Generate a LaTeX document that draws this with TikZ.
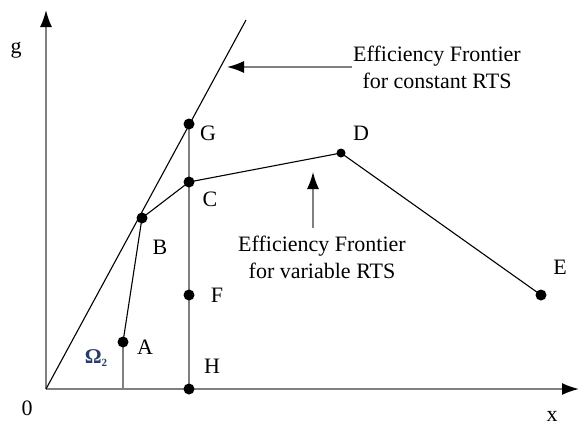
\documentclass[tikz,border=0pt]{standalone}
\usepackage{fontspec}
\setmainfont{Liberation Serif}
\usetikzlibrary{arrows.meta}
\definecolor{axisgray}{gray}{0.5}
\definecolor{omegacol}{RGB}{40,60,100}
\tikzset{
  dot/.style={circle,fill=black,inner sep=0pt,minimum size=11pt},
  smalldot/.style={circle,fill=black,inner sep=0pt,minimum size=9pt},
  axisline/.style={draw=axisgray,line width=1.8pt},
  thinline/.style={draw=black,line width=1.1pt},
  graytip/.style={-{Latex[length=17pt,width=12pt,black]}},
  lbl/.style={font=\fontsize{22}{26}\selectfont,inner sep=0pt},
  txt/.style={font=\fontsize{22}{27}\selectfont,align=center,inner sep=0pt}
}
\begin{document}
\begin{tikzpicture}[x=1pt,y=-1pt]
\useasboundingbox (0,0) rectangle (579,426);
% coordinates
\coordinate (O) at (46,389);
\coordinate (ytip) at (46,10);
\coordinate (xtip) at (579,389);
\coordinate (Ltop) at (246,20);
\coordinate (Abase) at (123,389);
\coordinate (pA) at (123,342);
\coordinate (pB) at (142,218);
\coordinate (pC) at (189,182);
\coordinate (pG) at (189,124);
\coordinate (pD) at (341,153);
\coordinate (pE) at (541,295);
\coordinate (pF) at (189,295);
\coordinate (pH) at (189,389);
% axes
\draw[axisline,graytip] (O) -- (ytip);
\draw[axisline,graytip] (O) -- (xtip);
% verticals
\draw[axisline] (pG) -- (pH);
\draw[axisline,line width=1.5pt] (pA) -- (Abase);
% frontiers
\draw[thinline] (O) -- (Ltop);
\draw[thinline] (pA) -- (pB) -- (pC) -- (pD) -- (pE);
% points
\node[dot] (A) at (pA) {};
\node[dot] (B) at (pB) {};
\node[dot] (C) at (pC) {};
\node[dot] (G) at (pG) {};
\node[smalldot] (D) at (pD) {};
\node[dot] (E) at (pE) {};
\node[dot] (F) at (pF) {};
\node[dot] (H) at (pH) {};
% annotation arrows
\node[txt] (tconst) at (437,67) {Efficiency Frontier\\for constant RTS};
\coordinate (cstart) at (352,67);
\coordinate (cend) at (227,67);
\draw[axisline,line width=1.5pt,graytip] (cstart) -- (cend);
\node[txt] (tvar) at (322,257) {Efficiency Frontier\\for variable RTS};
\coordinate (vstart) at (313,228);
\coordinate (vend) at (313,172);
\draw[axisline,line width=1.5pt,graytip] (vstart) -- (vend);
% labels
\node[lbl] (lg) at (16,50) {g};
\node[lbl] (l0) at (27,408) {0};
\node[lbl] (lx) at (552,416) {x};
\node[lbl] (lG) at (208,133) {G};
\node[lbl] (lC) at (210,199) {C};
\node[lbl] (lB) at (160,247) {B};
\node[lbl] (lA) at (145,347) {A};
\node[lbl] (lF) at (217,295) {F};
\node[lbl] (lH) at (212,366) {H};
\node[lbl] (lD) at (361,133) {D};
\node[lbl] (lE) at (560,267) {E};
\node[lbl,text=omegacol,font=\fontsize{21}{23}\selectfont\bfseries] (lOm) at (96,358) {Ω\raisebox{-0.4ex}{\fontsize{11}{12}\selectfont 2}};
\end{tikzpicture}
\end{document}
